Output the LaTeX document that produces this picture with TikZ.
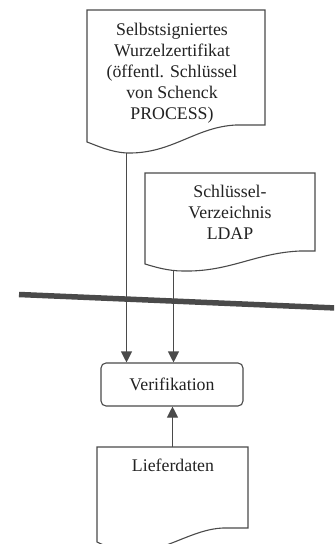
\documentclass[tikz,border=0pt]{standalone}
\usepackage{fontspec}
\setmainfont{Liberation Serif}
\usetikzlibrary{arrows.meta}
\definecolor{linegray}{HTML}{4A4A4A}
\definecolor{textgray}{HTML}{222222}
\begin{document}
\begin{tikzpicture}[x=1bp,y=-1bp,
  outline/.style={draw=linegray,line width=1.1bp},
  doctext/.style={text=textgray,align=center,inner sep=0pt,font=\fontsize{17.8bp}{21bp}\selectfont},
  conn/.style={draw=linegray,line width=1.1bp,-{Triangle[length=11bp,width=11bp]}},
  procbox/.style={outline,rounded corners=5bp,minimum width=142bp,minimum height=43bp,inner sep=0pt,text=textgray,font=\fontsize{17.8bp}{21bp}\selectfont}
]
\useasboundingbox (0,0) rectangle (334,544);
\begin{scope}
\clip (0,0) rectangle (334,544);
% separator line
\draw[line width=5.5bp,color=linegray] (19,294.5) -- (336,308);
% document 1
\draw[outline] (87,10) -- (265,10) -- (265,125) -- (236,125)
  .. controls (195,127) and (172,154) .. (127,153)
  .. controls (110,152) and (98,146) .. (87,142) -- cycle;
\coordinate (d1out) at (126.5,153);
\node[doctext] (t1) at (172,73) {Selbstsigniertes\\Wurzelzertifikat\\(öffentl. Schlüssel\\von Schenck\\PROCESS)};
% document 2
\draw[outline] (145,173) -- (315,173) -- (315,251) -- (300,251)
  .. controls (255,253) and (230,272) .. (183,271)
  .. controls (168,271) and (155,267) .. (145,264) -- cycle;
\coordinate (d2out) at (173.5,270.5);
\node[doctext] (t2) at (230,212) {Schlüssel-\\Verzeichnis\\LDAP};
% document 3
\draw[outline] (97,447) -- (248,447) -- (248,528) -- (223,528)
  .. controls (195,529) and (170,548) .. (140,552)
  .. controls (120,552) and (105,546) .. (97,542) -- cycle;
\coordinate (d3top) at (172.5,447);
\node[doctext] (t3) at (173,465) {Lieferdaten};
% process box
\node[procbox] (ver) at (172,384.5) {Verifikation};
\end{scope}
% connectors
\draw[conn] (d1out) -- (d1out |- ver.north);
\draw[conn] (d2out) -- (d2out |- ver.north);
\draw[conn] (d3top) -- (d3top |- ver.south);
\end{tikzpicture}
\end{document}
